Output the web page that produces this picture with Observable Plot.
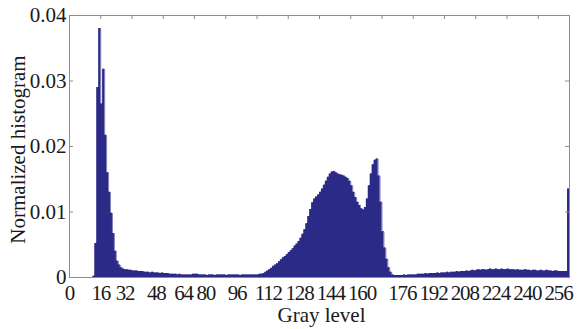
<!DOCTYPE html>
<html><head><meta charset="utf-8">
<script src="https://cdn.jsdelivr.net/npm/d3@7"></script>
<script src="https://cdn.jsdelivr.net/npm/@observablehq/plot@0.6"></script>
<style>
body{margin:0;background:#fff;}
svg text{font-family:"Liberation Serif","Times New Roman",serif;}
g[aria-label="x-axis tick label"] text{letter-spacing:-1.2px;}
</style></head><body><div id="chart"></div>
<script>
// Normalized histogram value for gray levels 0..255
const histValues = [
  // 0-11
  0,0,0,0,0,0,0,0,0,0,0,0,
  // 12-23
  0.0002,0.0052,0.029,0.038,0.0265,0.0318,0.0217,0.0160,0.0130,0.0098,0.0067,0.0040,
  // 24-47
  0.0025,0.0019,0.0015,0.0013,0.0012,0.0012,0.0011,0.0011,0.0010,0.0010,0.0010,0.0009,
  0.0009,0.0009,0.0008,0.0008,0.0008,0.0007,0.0008,0.0007,0.0007,0.0007,0.0006,0.0007,
  // 48-71
  0.0006,0.0006,0.0006,0.0005,0.0005,0.0005,0.0005,0.0004,0.0005,0.0004,0.0004,0.0004,
  0.0004,0.0004,0.0004,0.0005,0.0005,0.0005,0.0004,0.0004,0.0004,0.0004,0.0003,0.0004,
  // 72-99
  0.0004,0.0004,0.0003,0.0004,0.0004,0.0004,0.0004,0.0004,0.0003,0.0004,0.0004,0.0004,
  0.0004,0.0004,0.0004,0.0003,0.0004,0.0004,0.0004,0.0004,0.0004,0.0004,0.0004,0.0004,
  0.0004,0.0005,0.0005,0.0006,
  // 100-123
  0.0008,0.0010,0.0012,0.0014,0.0017,0.0019,0.0021,0.0024,0.0027,0.0030,0.0032,0.0035,
  0.0038,0.0041,0.0044,0.0048,0.0051,0.0055,0.0060,0.0066,0.0073,0.0082,0.0093,0.0104,
  // 124-147
  0.0114,0.0120,0.0123,0.0126,0.0130,0.0135,0.0141,0.0147,0.0153,0.0158,0.0161,0.0162,
  0.0160,0.0158,0.0157,0.0156,0.0155,0.0153,0.0151,0.0147,0.0140,0.0130,0.0122,0.0115,
  // 148-166
  0.0110,0.0105,0.0103,0.0107,0.0120,0.0140,0.0158,0.0172,0.0179,0.0181,0.0155,0.0115,
  0.0070,0.0045,0.0028,0.0015,0.0008,0.0004,0.0003,
  // 167-190
  0.0003,0.0003,0.0003,0.0003,0.0004,0.0003,0.0004,0.0004,0.0004,0.0004,0.0004,0.0005,
  0.0005,0.0005,0.0005,0.0006,0.0005,0.0006,0.0006,0.0006,0.0006,0.0007,0.0006,0.0007,
  // 191-214
  0.0007,0.0007,0.0008,0.0007,0.0008,0.0008,0.0008,0.0009,0.0008,0.0009,0.0009,0.0009,
  0.0010,0.0009,0.0010,0.0011,0.0010,0.0011,0.0012,0.0011,0.0012,0.0012,0.0011,0.0012,
  // 215-238
  0.0013,0.0012,0.0012,0.0013,0.0012,0.0012,0.0013,0.0012,0.0012,0.0013,0.0012,0.0012,
  0.0012,0.0011,0.0012,0.0011,0.0011,0.0011,0.0012,0.0011,0.0011,0.0010,0.0011,0.0011,
  // 239-255
  0.0010,0.0010,0.0011,0.0010,0.0010,0.0011,0.0010,0.0010,0.0009,0.0010,0.0010,0.0009,
  0.0009,0.0009,0.0009,0.0009,0.0135
];
const grayLevels = histValues.map((_, i) => i);

const xTicks = [0,16,32,48,64,80,96,112,128,144,160,176,192,208,224,240,256];
const yTicks = [0,0.01,0.02,0.03,0.04];
const xLabel = "Gray level";
const yLabel = "Normalized histogram";

// tick label groups (labels in the reference drift left of their ticks)
const xTickGroupA = [0,16];
const xTickGroupB = [32,48];
const xTickGroupC = [64,176,192,208,224,240,256];
const xTickGroupD = [80,96,112,128,144,160];

// each bin spans [g, g+1]; a closing step point at the right edge of the last bin
const rows = grayLevels.map((g, i) => ({g, v: histValues[i]}));
const stepRows = [...rows, {g: grayLevels.length, v: histValues[histValues.length - 1]}];

const barColor = "#2b2a87";
const frameColor = "#8e8e8e";
const textColor = "#1a1a1a";

const W = 583, H = 329;
const mL = 69, mR = 14, mT = 15, mB = 52;
const innerW = W - mL - mR, innerH = H - mT - mB;

const xAxis = (ticks, dx) => Plot.axisX(ticks, {
  anchor: "bottom", tickSize: 0, tickPadding: 8, fontSize: 21, dx, label: null,
  tickFormat: d => String(d), fill: textColor
});

const chart = Plot.plot({
  width: W, height: H,
  marginLeft: mL, marginRight: mR, marginTop: mT, marginBottom: mB,
  style: {background: "#fff", color: textColor},
  x: {domain: [0, 256]},
  y: {domain: [0, 0.04]},
  marks: [
    Plot.areaY(stepRows, {x: "g", y: "v", curve: "step-after", fill: barColor}),
    Plot.lineY(stepRows, {x: "g", y: "v", curve: "step-after", stroke: barColor, strokeWidth: 0.6}),
    Plot.frame({stroke: frameColor, strokeWidth: 1}),
    Plot.ruleX(xTicks.slice(1, -1), {x: d => d, stroke: frameColor, insetBottom: innerH - 4}),
    Plot.ruleY(yTicks.slice(1, -1), {y: d => d, stroke: frameColor, insetRight: innerW - 4}),
    Plot.ruleY(yTicks.slice(1, -1), {y: d => d, stroke: frameColor, insetLeft: innerW - 4}),
    Plot.axisY(yTicks, {anchor: "left", tickSize: 0, tickPadding: 3, fontSize: 21, label: null,
      tickFormat: d => d === 0 ? "0" : d.toFixed(2), fill: textColor}),
    xAxis(xTickGroupA, 0),
    xAxis(xTickGroupB, -7),
    xAxis(xTickGroupC, -11),
    xAxis(xTickGroupD, -20),
    Plot.text([yLabel], {frameAnchor: "left", text: d => d, rotate: -90, dx: -51, dy: 3,
      fontSize: 21, fill: textColor, lineAnchor: "middle", textAnchor: "middle"}),
    Plot.text([xLabel], {frameAnchor: "bottom", text: d => d, dy: 30, dx: 2,
      fontSize: 21, fill: textColor, lineAnchor: "top", textAnchor: "middle"})
  ]
});
document.getElementById("chart").append(chart);
</script></body></html>
